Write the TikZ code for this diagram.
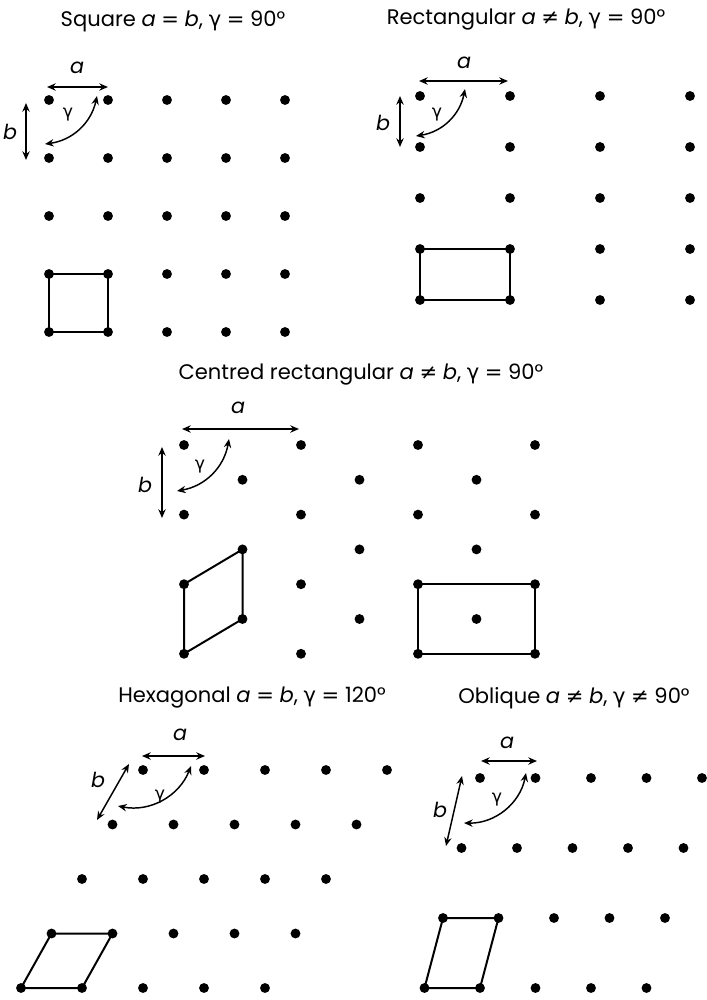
\documentclass[tikz,border=0pt]{standalone}
\usepackage{fontspec}
\setmainfont{Poppins}
\newfontfamily\gfont{DejaVu Sans}
\usetikzlibrary{arrows.meta}
\newcommand{\gam}{{\gfont γ}}
\newcommand{\neqsym}{{\gfont ≠}}
\newcommand{\eqsym}{{\gfont =}}
\begin{document}
\begin{tikzpicture}[x=0.75pt,y=-0.75pt,
  dot/.style={circle,fill=black,inner sep=0pt,minimum size=7.4pt},
  cell/.style={line width=1.5pt,line join=round},
  dim/.style={{Stealth[length=6.5pt,width=5.5pt]}-{Stealth[length=6.5pt,width=5.5pt]},line width=1.1pt},
  lbl/.style={font=\fontsize{15.5}{17}\selectfont\itshape,inner sep=0pt},
  glbl/.style={font=\fontsize{13}{15}\selectfont\gfont,inner sep=0pt},
  ttl/.style={font=\fontsize{15.8}{18}\selectfont,inner sep=0pt}]
\useasboundingbox (0,0) rectangle (707,1000);

% ---------- Square ----------
\node[ttl] (t1) at (173,21) {Square \textit{a} \eqsym{} \textit{b}, \gam{} \eqsym{} 90°};
\foreach \i in {0,...,4} \foreach \j in {0,...,4}
  \node[dot] (sq-\i-\j) at ({49+59*\i},{100+58*\j}) {};
\draw[cell] (sq-0-3.center) -- (sq-1-3.center) -- (sq-1-4.center) -- (sq-0-4.center) -- cycle;
\coordinate (sqa1) at (47,87); \coordinate (sqa2) at (108,87);
\coordinate (sqb1) at (26,103); \coordinate (sqb2) at (26,160);
\coordinate (sqg1) at (45,144); \coordinate (sqg2) at (97,96);
\draw[dim] (sqa1) -- (sqa2);
\draw[dim] (sqb1) -- (sqb2);
\draw[dim] (sqg1) to[bend right=35] (sqg2);
\node[lbl] (sqla) at (77,68) {a};
\node[lbl] (sqlb) at (10,132) {b};
\node[glbl] (sqlg) at (68,115) {γ};

% ---------- Rectangular ----------
\node[ttl] (t2) at (526,20) {Rectangular \textit{a} \neqsym{} \textit{b}, \gam{} \eqsym{} 90°};
\foreach \i in {0,...,3} \foreach \j in {0,...,4}
  \node[dot] (re-\i-\j) at ({420+90*\i},{96+51*\j}) {};
\draw[cell] (re-0-3.center) -- (re-1-3.center) -- (re-1-4.center) -- (re-0-4.center) -- cycle;
\coordinate (rea1) at (419,81); \coordinate (rea2) at (508,81);
\coordinate (reb1) at (400,96); \coordinate (reb2) at (400,147);
\coordinate (reg1) at (416,136); \coordinate (reg2) at (465,89);
\draw[dim] (rea1) -- (rea2);
\draw[dim] (reb1) -- (reb2);
\draw[dim] (reg1) to[bend right=35] (reg2);
\node[lbl] (rela) at (464,63) {a};
\node[lbl] (relb) at (383,123) {b};
\node[glbl] (relg) at (437,115) {γ};

% ---------- Centred rectangular ----------
\node[ttl] (t3) at (361,375) {Centred rectangular \textit{a} \neqsym{} \textit{b}, \gam{} \eqsym{} 90°};
\foreach \i in {0,...,3} \foreach \k in {0,...,3}
  \node[dot] (cc-\i-\k) at ({184+117*\i},{445+69.6*\k}) {};
\foreach \i in {0,...,2} \foreach \k in {0,...,2}
  \node[dot] (ce-\i-\k) at ({242.5+117*\i},{479.8+69.6*\k}) {};
\draw[cell] (cc-0-3.center) -- (ce-0-2.center) -- (ce-0-1.center) -- (cc-0-2.center) -- cycle;
\draw[cell] (cc-2-2.center) -- (cc-3-2.center) -- (cc-3-3.center) -- (cc-2-3.center) -- cycle;
\coordinate (cra1) at (182,429); \coordinate (cra2) at (299,429);
\coordinate (crb1) at (162,447); \coordinate (crb2) at (162,518);
\coordinate (crg1) at (177,491); \coordinate (crg2) at (229,439);
\draw[dim] (cra1) -- (cra2);
\draw[dim] (crb1) -- (crb2);
\draw[dim] (crg1) to[bend right=35] (crg2);
\node[lbl] (crla) at (238,408) {a};
\node[lbl] (crlb) at (145,485) {b};
\node[glbl] (crlg) at (200,467) {γ};

% ---------- Hexagonal ----------
\node[ttl] (t4) at (252,698) {Hexagonal \textit{a} \eqsym{} \textit{b}, \gam{} \eqsym{} 120°};
\foreach \i in {0,...,4} \foreach \j in {0,...,4}
  \node[dot] (hx-\i-\j) at ({143-30.5*\j+61*\i},{770+54.5*\j}) {};
\draw[cell] (hx-0-3.center) -- (hx-1-3.center) -- (hx-1-4.center) -- (hx-0-4.center) -- cycle;
\coordinate (hxa1) at (142,756); \coordinate (hxa2) at (205,756);
\coordinate (hxb1) at (129,764); \coordinate (hxb2) at (97,820);
\coordinate (hxg1) at (118,806); \coordinate (hxg2) at (191,766);
\draw[dim] (hxa1) -- (hxa2);
\draw[dim] (hxb1) -- (hxb2);
\draw[dim] (hxg1) to[bend right=40] (hxg2);
\node[lbl] (hxla) at (180,735) {a};
\node[lbl] (hxlb) at (98,780) {b};
\node[glbl] (hxlg) at (160,797) {γ};

% ---------- Oblique ----------
\node[ttl] (t5) at (574,698) {Oblique \textit{a} \neqsym{} \textit{b}, \gam{} \neqsym{} 90°};
\foreach \i in {0,...,4} \foreach \j in {0,...,3}
  \node[dot] (ob-\i-\j) at ({480-18.5*\j+55.5*\i},{778+70*\j}) {};
\draw[cell] (ob-0-2.center) -- (ob-1-2.center) -- (ob-1-3.center) -- (ob-0-3.center) -- cycle;
\coordinate (oba1) at (481,761); \coordinate (oba2) at (537,761);
\coordinate (obb1) at (462,776); \coordinate (obb2) at (446,846);
\coordinate (obg1) at (464,823); \coordinate (obg2) at (526,773);
\draw[dim] (oba1) -- (oba2);
\draw[dim] (obb1) -- (obb2);
\draw[dim] (obg1) to[bend right=40] (obg2);
\node[lbl] (obla) at (507,743) {a};
\node[lbl] (oblb) at (440,810) {b};
\node[glbl] (oblg) at (497,800) {γ};
\end{tikzpicture}
\end{document}
